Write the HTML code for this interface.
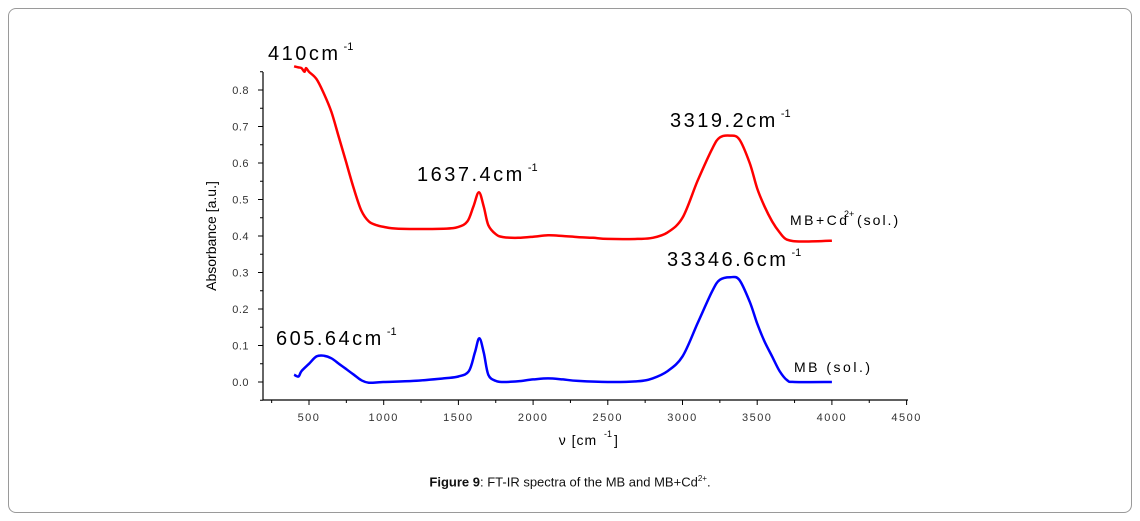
<!DOCTYPE html>
<html><head><meta charset="utf-8"><style>
body{margin:0;background:#fff;font-family:"Liberation Sans",sans-serif}
#frame{position:absolute;left:8px;top:8px;width:1122px;height:503px;border:1px solid #9a9a9a;border-radius:8px}
#cap{position:absolute;left:0;width:1140px;top:474px;text-align:center;font-size:13px;color:#111}
</style></head><body>
<div id="frame"></div>
<svg id="chart" width="1140" height="521" style="position:absolute;left:0;top:0"></svg>
<div id="cap"><b>Figure 9</b>: FT-IR spectra of the MB and MB+Cd<sup style="font-size:8px">2+</sup>.</div>
<script>
const redX=[400,430,450,470,480,500,550,600,650,700,750,800,850,900,950,1000,1100,1400,1500,1560,1600,1637,1670,1700,1750,1800,1900,2000,2100,2200,2300,2400,2500,2700,2800,2900,3000,3100,3200,3250,3319,3380,3450,3500,3550,3600,3650,3700,3800,4000];
const redY=[0.865,0.862,0.86,0.85,0.86,0.85,0.83,0.79,0.74,0.67,0.6,0.53,0.47,0.44,0.43,0.425,0.42,0.42,0.425,0.44,0.48,0.52,0.48,0.43,0.405,0.397,0.395,0.398,0.402,0.4,0.397,0.395,0.392,0.392,0.395,0.41,0.45,0.55,0.64,0.67,0.675,0.665,0.6,0.53,0.48,0.44,0.41,0.39,0.385,0.387];
const blueX=[400,430,450,500,550,600,650,700,750,800,850,900,1000,1200,1400,1500,1570,1610,1640,1670,1700,1750,1800,1900,2000,2100,2200,2300,2500,2700,2800,2900,3000,3100,3200,3250,3320,3380,3450,3500,3550,3600,3650,3700,3750,4000];
const blueY=[0.02,0.015,0.03,0.05,0.07,0.072,0.065,0.05,0.035,0.02,0.005,-0.002,0,0.003,0.01,0.015,0.03,0.08,0.12,0.08,0.02,0.003,0,0.002,0.007,0.01,0.007,0.003,0,0.002,0.01,0.03,0.07,0.16,0.25,0.28,0.287,0.28,0.22,0.16,0.11,0.07,0.03,0.005,0,0];
const xTicks=[500,1000,1500,2000,2500,3000,3500,4000,4500];
const yTicks=[0.0,0.1,0.2,0.3,0.4,0.5,0.6,0.7,0.8];
const NS="http://www.w3.org/2000/svg",svg=document.getElementById('chart');
const X=v=>309+(v-500)*0.1494, Y=v=>382-v*365;
function el(t,a,txt){const e=document.createElementNS(NS,t);for(const k in a)e.setAttribute(k,a[k]);if(txt!=null)e.textContent=txt;svg.appendChild(e);return e;}
let e=el('line',{x1:263,y1:72,x2:263,y2:400,stroke:'#000','stroke-width':1.2});


e=el('line',{x1:263,y1:400,x2:908,y2:400,stroke:'#000','stroke-width':1.2});


xTicks.forEach(v=>{const x=X(v);el('line',{x1:x,y1:400,x2:x,y2:405,stroke:'#000'});
 el('line',{x1:X(v-250),y1:400,x2:X(v-250),y2:403,stroke:'#000'});
 e=el('text',{x:x,y:421,'font-size':11,'text-anchor':'middle',fill:'#333','letter-spacing':'1.5'},v);
 
 });
yTicks.forEach(v=>{const y=Y(v);el('line',{x1:258,y1:y,x2:263,y2:y,stroke:'#000'});
 el('line',{x1:260,y1:Y(v-0.05),x2:263,y2:Y(v-0.05),stroke:'#000'});
 e=el('text',{x:249,y:y+4,'font-size':11,'text-anchor':'end',fill:'#333','letter-spacing':'0.5'},v.toFixed(1));
 
 });
el('line',{x1:260,y1:Y(0.85),x2:263,y2:Y(0.85),stroke:'#000'});
e=el('text',{x:216,y:236,'font-size':14,'text-anchor':'middle',transform:'rotate(-90 216 236)'},'Absorbance [a.u.]');


e=el('text',{x:578,y:445,'font-size':14,'text-anchor':'middle','letter-spacing':'1'},'ν [cm');


el('text',{x:604,y:437,'font-size':9},'-1');el('text',{x:614,y:445,'font-size':14},']');
function path(xs,ys,c,n){const P=xs.map((v,i)=>[X(v),Y(ys[i])]);
 let d='M'+P[0][0].toFixed(1)+','+P[0][1].toFixed(1);
 for(let i=0;i<P.length-1;i++){const p0=P[Math.max(0,i-1)],p1=P[i],p2=P[i+1],p3=P[Math.min(P.length-1,i+2)];
  const c1=[p1[0]+(p2[0]-p0[0])/6,p1[1]+(p2[1]-p0[1])/6],c2=[p2[0]-(p3[0]-p1[0])/6,p2[1]-(p3[1]-p1[1])/6];
  d+='C'+c1.map(v=>v.toFixed(1)).join(',')+' '+c2.map(v=>v.toFixed(1)).join(',')+' '+p2.map(v=>v.toFixed(1)).join(',');}
 const p=el('path',{d:d,fill:'none',stroke:c,'stroke-width':2.5,'stroke-linejoin':'round'});
 
 }
path(redX,redY,'#f00','mb-cd-series');path(blueX,blueY,'#00f','mb-series');
function lab(x,y,t,sup,n,fs){fs=fs||20;
 const t1=el('text',{x:x,y:y,'font-size':fs,'letter-spacing':'2.5'},t);
 
 
 const w=t1.getComputedTextLength();if(sup)el('text',{x:x+w+3,y:y-fs*0.5,'font-size':fs*0.55},sup);}
lab(268,60,'410cm','-1','peak-label-410');
lab(417,181,'1637.4cm','-1','peak-label-1637');
lab(670,127,'3319.2cm','-1','peak-label-3319');
lab(667,266,'33346.6cm','-1','peak-label-3346');
lab(276,345,'605.64cm','-1','peak-label-605');
e=el('text',{x:790,y:225,'font-size':14,'letter-spacing':'2.5'},'MB+Cd');


el('text',{x:844,y:217,'font-size':9},'2+');el('text',{x:857,y:225,'font-size':14,'letter-spacing':'2'},'(sol.)');
e=el('text',{x:794,y:372,'font-size':14,'letter-spacing':'2.5'},'MB (sol.)');


</script>
</body></html>
